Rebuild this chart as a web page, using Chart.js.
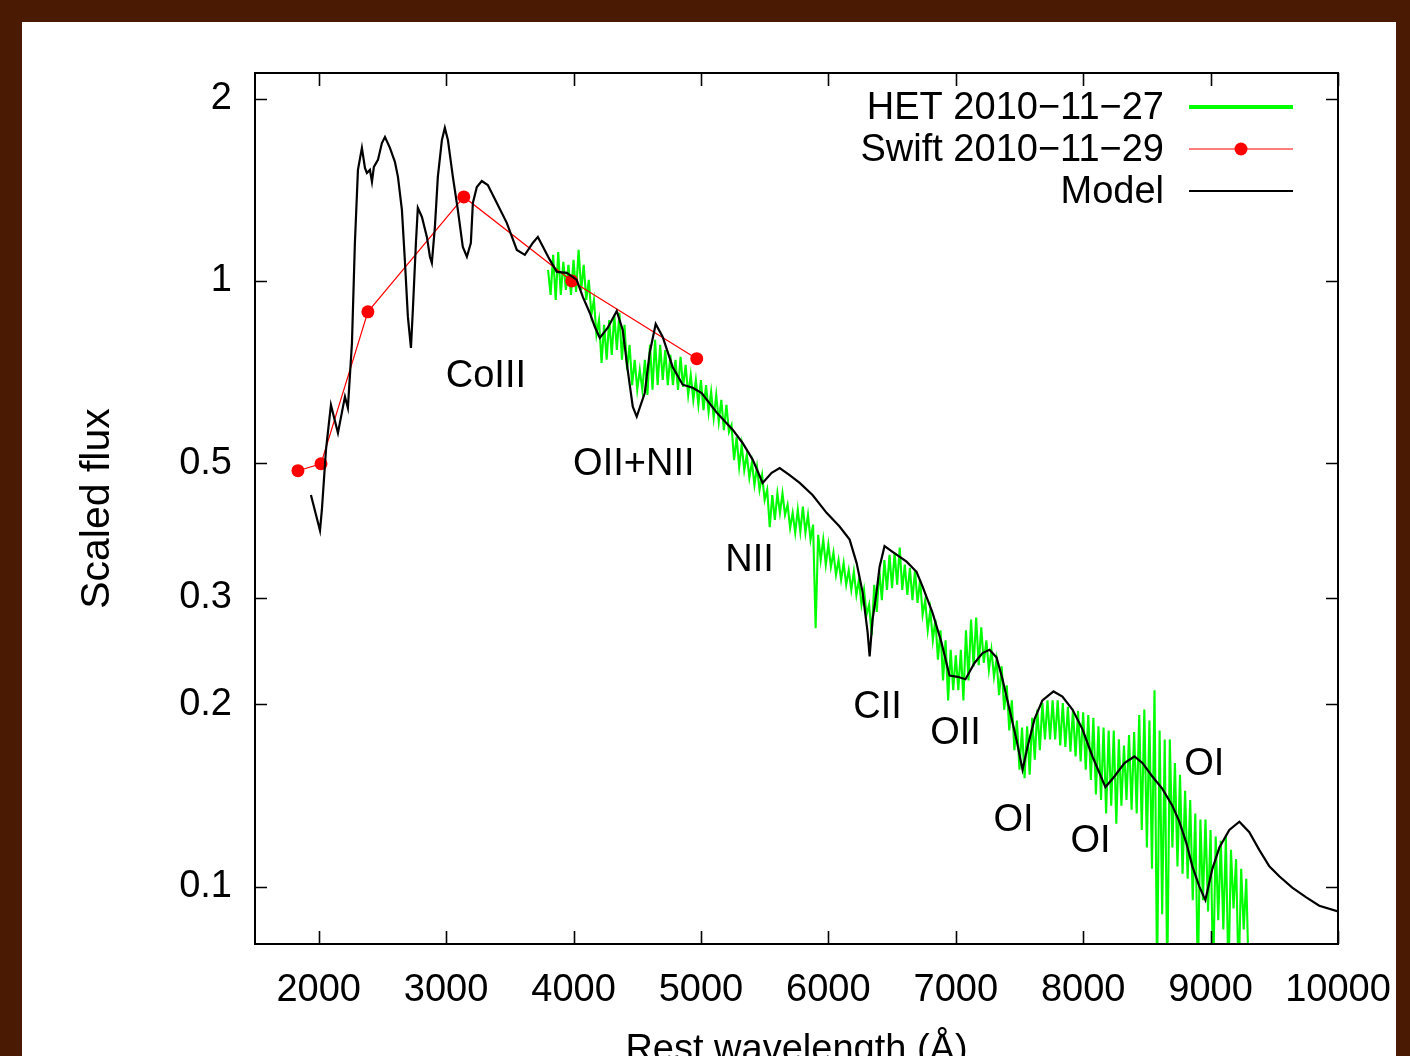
<!DOCTYPE html>
<html>
<head>
<meta charset="utf-8">
<script src="https://cdn.jsdelivr.net/npm/chart.js@4.4.1/dist/chart.umd.min.js"></script>
<style>
  html, body { margin: 0; padding: 0; width: 1410px; height: 1056px; overflow: hidden; background: #4a1a02; }
  #frame { position: absolute; left: 22px; top: 22px; width: 1374px; height: 1060px; background: #fff; }
  canvas { display: block; }
</style>
</head>
<body>
<div id="frame"><canvas id="spec" width="1374" height="1060"></canvas></div>
<script>
// ── data ────────────────────────────────────────────────────────────────

const xTicks = [2000, 3000, 4000, 5000, 6000, 7000, 8000, 9000, 10000];
const yTicks = [0.1, 0.2, 0.3, 0.5, 1, 2];
const yTickLabels = ['0.1', '0.2', '0.3', '0.5', '1', '2'];

// Swift points
const swiftWave = [1837, 2018, 2386, 3139, 3986, 4967];
const swiftFlux = [0.486, 0.499, 0.889, 1.376, 1.000, 0.744];

// model spectrum
const modelWave = [
  1939, 2010, 2025, 2057, 2096, 2151, 2206, 2229, 2261, 2284,
  2308, 2339, 2363, 2378, 2402, 2418, 2433, 2465, 2496, 2520,
  2559, 2598, 2622, 2653, 2676, 2700, 2724, 2739, 2763, 2778,
  2810, 2849, 2873, 2888, 2912, 2935, 2967, 2990, 3014, 3053,
  3092, 3131, 3163, 3194, 3210, 3241, 3280, 3327, 3398, 3476,
  3555, 3618, 3680, 3720, 3814, 3869, 3947, 4025, 4073, 4127,
  4167, 4206, 4269, 4339, 4386, 4425, 4465, 4496, 4559, 4598,
  4645, 4700, 4778, 4857, 4935, 5006, 5124, 5249, 5327, 5406,
  5484, 5555, 5618, 5696, 5775, 5876, 5986, 6088, 6167, 6222,
  6269, 6308, 6324, 6347, 6378, 6402, 6441, 6504, 6614, 6692,
  6739, 6818, 6888, 6951, 7014, 7076, 7147, 7210, 7265, 7320,
  7367, 7422, 7476, 7524, 7563, 7618, 7680, 7767, 7837, 7916,
  7994, 8073, 8175, 8245, 8324, 8402, 8465, 8543, 8622, 8700,
  8755, 8810, 8857, 8912, 8959, 9014, 9069, 9147, 9226, 9304,
  9382, 9461, 9539, 9641, 9751, 9853, 10000
];
const modelFlux = [
  0.443, 0.387, 0.419, 0.526, 0.624, 0.561, 0.644, 0.617, 0.790, 1.155,
  1.525, 1.658, 1.536, 1.507, 1.525, 1.457, 1.542, 1.584, 1.689, 1.728,
  1.658, 1.572, 1.485, 1.310, 1.083, 0.872, 0.775, 0.896, 1.155, 1.320,
  1.275, 1.182, 1.096, 1.071, 1.228, 1.485, 1.709, 1.789, 1.709, 1.485,
  1.310, 1.138, 1.096, 1.155, 1.345, 1.429, 1.462, 1.440, 1.345, 1.247,
  1.125, 1.104, 1.155, 1.182, 1.083, 1.035, 1.031, 1.004, 0.941, 0.886,
  0.840, 0.805, 0.837, 0.892, 0.830, 0.713, 0.620, 0.597, 0.653, 0.761,
  0.849, 0.808, 0.721, 0.674, 0.666, 0.653, 0.606, 0.568, 0.540, 0.507,
  0.464, 0.482, 0.491, 0.478, 0.464, 0.443, 0.414, 0.393, 0.374, 0.342,
  0.306, 0.263, 0.240, 0.276, 0.306, 0.337, 0.365, 0.357, 0.344, 0.331,
  0.313, 0.283, 0.253, 0.223, 0.222, 0.220, 0.234, 0.243, 0.246, 0.239,
  0.220, 0.196, 0.175, 0.156, 0.170, 0.189, 0.203, 0.210, 0.206, 0.196,
  0.182, 0.164, 0.146, 0.152, 0.160, 0.164, 0.160, 0.152, 0.145, 0.136,
  0.128, 0.118, 0.108, 0.100, 0.095, 0.107, 0.116, 0.124, 0.128, 0.123,
  0.115, 0.108, 0.104, 0.0996, 0.096, 0.093, 0.091
];

// HET spectrum, 40 Å bins: upper and lower edge of the noise in each bin
const HET_BIN = 40;
const hetWave = [
  3800, 3840, 3880, 3920, 3960, 4000, 4040, 4080, 4120, 4160,
  4200, 4240, 4280, 4320, 4360, 4400, 4440, 4480, 4520, 4560,
  4600, 4640, 4680, 4720, 4760, 4800, 4840, 4880, 4920, 4960,
  5000, 5040, 5080, 5120, 5160, 5200, 5240, 5280, 5320, 5360,
  5400, 5440, 5480, 5520, 5560, 5600, 5640, 5680, 5720, 5760,
  5800, 5840, 5880, 5920, 5960, 6000, 6040, 6080, 6120, 6160,
  6200, 6240, 6280, 6320, 6360, 6400, 6440, 6480, 6520, 6560,
  6600, 6640, 6680, 6720, 6760, 6800, 6840, 6880, 6920, 6960,
  7000, 7040, 7080, 7120, 7160, 7200, 7240, 7280, 7320, 7360,
  7400, 7440, 7480, 7520, 7560, 7600, 7640, 7680, 7720, 7760,
  7800, 7840, 7880, 7920, 7960, 8000, 8040, 8080, 8120, 8160,
  8200, 8240, 8280, 8320, 8360, 8400, 8440, 8480, 8520, 8560,
  8600, 8640, 8680, 8720, 8760, 8800, 8840, 8880, 8920, 8960,
  9000, 9040, 9080, 9120, 9160, 9200, 9240, 9280
];
const hetTop = [
  1.043, 1.104, 1.116, 1.075, 1.063, 1.083, 1.125, 1.063, 1.004, 0.930,
  0.862, 0.846, 0.862, 0.879, 0.886, 0.846, 0.784, 0.741, 0.713, 0.741,
  0.784, 0.799, 0.784, 0.769, 0.755, 0.741, 0.749, 0.727, 0.700, 0.686,
  0.686, 0.673, 0.656, 0.648, 0.636, 0.624, 0.578, 0.552, 0.536, 0.516,
  0.502, 0.493, 0.478, 0.452, 0.443, 0.446, 0.446, 0.427, 0.414, 0.419,
  0.424, 0.411, 0.396, 0.381, 0.374, 0.367, 0.356, 0.346, 0.342, 0.333,
  0.331, 0.321, 0.309, 0.292, 0.315, 0.333, 0.346, 0.353, 0.356, 0.363,
  0.340, 0.336, 0.333, 0.321, 0.297, 0.286, 0.276, 0.265, 0.255, 0.246,
  0.241, 0.246, 0.265, 0.276, 0.278, 0.268, 0.255, 0.246, 0.237, 0.231,
  0.215, 0.203, 0.188, 0.183, 0.184, 0.190, 0.196, 0.201, 0.203, 0.203,
  0.203, 0.201, 0.198, 0.196, 0.195, 0.194, 0.192, 0.190, 0.184, 0.183,
  0.181, 0.181, 0.175, 0.171, 0.178, 0.180, 0.192, 0.196, 0.188, 0.211,
  0.181, 0.175, 0.175, 0.160, 0.153, 0.144, 0.139, 0.132, 0.129, 0.129,
  0.124, 0.121, 0.119, 0.121, 0.115, 0.111, 0.107, 0.103
];
const hetBottom = [
  0.948, 0.930, 0.948, 0.966, 0.948, 0.959, 0.966, 0.930, 0.879, 0.815,
  0.732, 0.741, 0.755, 0.769, 0.741, 0.713, 0.673, 0.661, 0.661, 0.648,
  0.661, 0.673, 0.686, 0.673, 0.673, 0.661, 0.668, 0.648, 0.636, 0.624,
  0.612, 0.607, 0.594, 0.585, 0.567, 0.563, 0.506, 0.493, 0.487, 0.473,
  0.460, 0.452, 0.435, 0.392, 0.403, 0.414, 0.411, 0.391, 0.384, 0.385,
  0.384, 0.374, 0.267, 0.346, 0.340, 0.337, 0.327, 0.321, 0.315, 0.309,
  0.303, 0.292, 0.281, 0.260, 0.284, 0.297, 0.309, 0.311, 0.315, 0.309,
  0.303, 0.297, 0.294, 0.281, 0.265, 0.255, 0.237, 0.219, 0.203, 0.211,
  0.211, 0.203, 0.219, 0.231, 0.232, 0.234, 0.228, 0.222, 0.207, 0.196,
  0.181, 0.168, 0.156, 0.151, 0.153, 0.162, 0.168, 0.175, 0.175, 0.175,
  0.171, 0.170, 0.167, 0.164, 0.161, 0.156, 0.150, 0.142, 0.139, 0.132,
  0.136, 0.127, 0.136, 0.139, 0.134, 0.132, 0.124, 0.116, 0.107, 0.070,
  0.090, 0.070, 0.116, 0.108, 0.105, 0.103, 0.095, 0.070, 0.095, 0.091,
  0.070, 0.088, 0.085, 0.070, 0.092, 0.070, 0.085, 0.070
];

// line identifications
const lineLabels = ['CoIII', 'OII+NII', 'NII', 'CII', 'OII', 'OI', 'OI', 'OI'];
const lineLabelWave = [3312, 4473, 5382, 6386, 6998, 7453, 8057, 8951];
const lineLabelFlux = [0.702, 0.503, 0.350, 0.200, 0.181, 0.130, 0.120, 0.161];

// ── style ───────────────────────────────────────────────────────────────

const FONT = '"Liberation Sans", Arial, Helvetica, sans-serif';
const FS = 38;
const COLORS = { het: '#00ff00', swift: '#ff0000', model: '#000000' };

const toXY = (xs, ys) => xs.map((x, i) => ({ x, y: ys[i] }));

// each bin -> top at bin start, bottom half a bin later (noise zigzag)
function hetPoints() {
  const pts = [];
  hetWave.forEach((w, i) => {
    pts.push({ x: w, y: hetTop[i] });
    pts.push({ x: w + HET_BIN / 2, y: hetBottom[i] });
  });
  return pts;
}

// gnuplot-like frame: box, inward ticks, line labels, key
const framePlugin = {
  id: 'gnuFrame',
  afterDatasetsDraw(chart) {
    const { ctx, chartArea: a, scales: { x, y } } = chart;
    ctx.save();
    ctx.strokeStyle = '#000';
    ctx.lineWidth = 1.6;
    ctx.beginPath();
    xTicks.forEach(v => {
      const px = Math.round(x.getPixelForValue(v)) + 0.5;
      ctx.moveTo(px, a.bottom); ctx.lineTo(px, a.bottom - 13);
      ctx.moveTo(px, a.top);    ctx.lineTo(px, a.top + 13);
    });
    yTicks.forEach(v => {
      const py = Math.round(y.getPixelForValue(v)) + 0.5;
      ctx.moveTo(a.left, py);  ctx.lineTo(a.left + 12, py);
      ctx.moveTo(a.right, py); ctx.lineTo(a.right - 12, py);
    });
    ctx.stroke();
    ctx.lineWidth = 2;
    ctx.strokeRect(a.left, a.top, a.right - a.left, a.bottom - a.top);

    ctx.fillStyle = '#000';
    ctx.font = `${FS}px ${FONT}`;
    ctx.textAlign = 'center';
    ctx.textBaseline = 'middle';
    lineLabels.forEach((t, i) => {
      ctx.fillText(t, x.getPixelForValue(lineLabelWave[i]), y.getPixelForValue(lineLabelFlux[i]) + 3);
    });

    // key
    const rows = [85, 127, 169];
    const x0 = 1167, x1 = 1271, textRight = 1142;
    ctx.textAlign = 'right';
    chart.data.datasets.forEach((ds, i) => {
      const yy = rows[i];
      ctx.fillText(ds.label, textRight, yy + 2);
      ctx.strokeStyle = ds.borderColor;
      ctx.lineWidth = i === 0 ? 4 : ds.borderWidth;
      ctx.beginPath();
      ctx.moveTo(x0, yy); ctx.lineTo(x1, yy);
      ctx.stroke();
      if (ds.pointRadius > 0) {
        ctx.fillStyle = ds.backgroundColor;
        ctx.beginPath();
        ctx.arc((x0 + x1) / 2, yy, ds.pointRadius, 0, Math.PI * 2);
        ctx.fill();
        ctx.fillStyle = '#000';
      }
    });
    ctx.restore();
  },
};

// ── chart ───────────────────────────────────────────────────────────────

new Chart(document.getElementById('spec'), {
  type: 'scatter',
  data: {
    datasets: [
      {
        label: 'HET 2010\u221211\u221227',
        data: hetPoints(),
        showLine: true,
        borderColor: COLORS.het,
        borderWidth: 2.1,
        pointRadius: 0,
        order: 3,
      },
      {
        label: 'Swift 2010\u221211\u221229',
        data: toXY(swiftWave, swiftFlux),
        showLine: true,
        borderColor: COLORS.swift,
        backgroundColor: COLORS.swift,
        borderWidth: 1.2,
        pointRadius: 6.5,
        pointBorderWidth: 0,
        order: 2,
      },
      {
        label: 'Model',
        data: toXY(modelWave, modelFlux),
        showLine: true,
        borderColor: COLORS.model,
        borderWidth: 2.2,
        pointRadius: 0,
        order: 1,
      },
    ],
  },
  options: {
    responsive: false,
    animation: false,
    events: [],
    layout: { padding: { top: 51, right: 58, left: 0, bottom: 0 } },
    plugins: { legend: { display: false }, tooltip: { enabled: false } },
    scales: {
      x: {
        type: 'linear',
        min: 1500,
        max: 10000,
        afterBuildTicks: s => { s.ticks = xTicks.map(v => ({ value: v })); },
        afterFit: s => { s.height = 138; s.paddingLeft = 0; s.paddingRight = 0; },
        grid: { display: false, drawTicks: false },
        border: { display: false },
        ticks: {
          color: '#000', font: { family: FONT, size: FS },
          padding: 24, maxRotation: 0, autoSkip: false,
          callback: v => String(v),
        },
        title: {
          display: true, text: 'Rest wavelength (Å)', color: '#000',
          font: { family: FONT, size: FS }, padding: { top: 0, bottom: 9 },
        },
      },
      y: {
        type: 'logarithmic',
        min: 0.0804,
        max: 2.204,
        afterBuildTicks: s => { s.ticks = yTicks.map(v => ({ value: v })); },
        afterFit: s => { s.width = 233; s.paddingTop = 0; s.paddingBottom = 0; },
        grid: { display: false, drawTicks: false },
        border: { display: false },
        ticks: {
          color: '#000', font: { family: FONT, size: FS },
          padding: 23, autoSkip: false,
          callback: (v, i) => yTickLabels[i],
        },
        title: {
          display: true, text: 'Scaled flux', color: '#000',
          font: { family: FONT, size: 41 }, padding: { top: 51, bottom: 0 },
        },
      },
    },
  },
  plugins: [framePlugin],
});
</script>
</body>
</html>
